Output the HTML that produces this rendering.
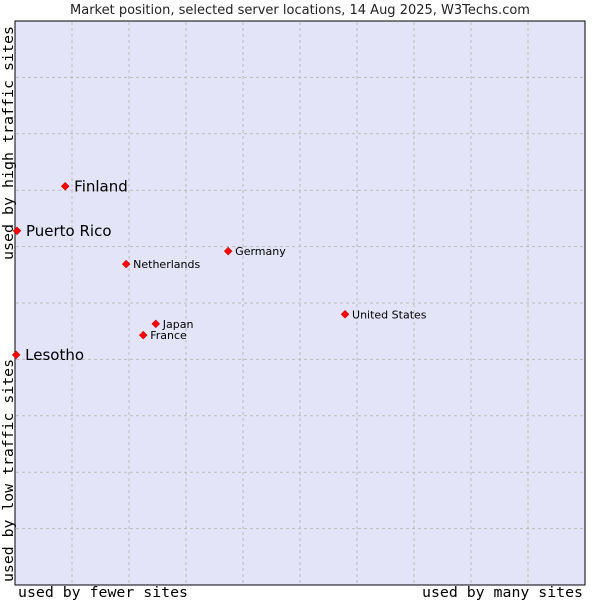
<!DOCTYPE html>
<html><head><meta charset="utf-8"><style>
body{margin:0;background:#fff;width:600px;height:600px;overflow:hidden}
svg{display:block}
</style></head><body>
<svg id="c" width="600" height="600" font-family="DejaVu Sans, Liberation Sans, sans-serif">
<text x="300" y="14" text-anchor="middle" font-size="13" fill="#222">Market position, selected server locations, 14 Aug 2025, W3Techs.com</text>
<rect x="15" y="21" width="570" height="564" fill="#e4e4f8" stroke="#000" stroke-width="1"/>
<g id="grid"></g>
<g id="pts"></g>
<text x="18" y="597" font-family="DejaVu Sans Mono, Liberation Mono, monospace" font-size="14" textLength="170" lengthAdjust="spacingAndGlyphs">used by fewer sites</text>
<text x="422" y="597" font-family="DejaVu Sans Mono, Liberation Mono, monospace" font-size="14" textLength="161" lengthAdjust="spacingAndGlyphs">used by many sites</text>
<text transform="translate(13,582) rotate(-90)" font-family="DejaVu Sans Mono, Liberation Mono, monospace" font-size="14" textLength="223" lengthAdjust="spacingAndGlyphs">used by low traffic sites</text>
<text transform="translate(13,260) rotate(-90)" font-family="DejaVu Sans Mono, Liberation Mono, monospace" font-size="14" textLength="234" lengthAdjust="spacingAndGlyphs">used by high traffic sites</text>
</svg>
<script>
const names=["Finland","Puerto Rico","Lesotho","Netherlands","Germany","United States","Japan","France"];
const xs=[8.8,0.35,0.2,19.5,37.4,57.9,24.7,22.5];
const ys=[70.7,62.8,40.8,56.9,59.2,48.0,46.3,44.3];
const big=[true,true,true,false,false,false,false,false];
const X=v=>15+v*5.7, Y=v=>585-v*5.64;
const NS="http://www.w3.org/2000/svg";
const g=document.getElementById('grid');
for(let i=1;i<10;i++){
 const l=document.createElementNS(NS,'line');
 
 
 l.setAttribute('x1',X(i*10));l.setAttribute('x2',X(i*10));l.setAttribute('y1',22);l.setAttribute('y2',584);
 l.setAttribute('stroke','#bbb');l.setAttribute('stroke-dasharray','3,3');g.appendChild(l);
 const h=document.createElementNS(NS,'line');
 
 
 h.setAttribute('y1',Y(i*10));h.setAttribute('y2',Y(i*10));h.setAttribute('x1',16);h.setAttribute('x2',584);
 h.setAttribute('stroke','#bbb');h.setAttribute('stroke-dasharray','3,3');g.appendChild(h);
}
const p=document.getElementById('pts');
names.forEach((n,i)=>{
 const x=X(xs[i]),y=Y(ys[i]);
 const d=document.createElementNS(NS,'path');
 
 
 d.setAttribute('d',`M${x} ${y-4}L${x+4} ${y}L${x} ${y+4}L${x-4} ${y}Z`);
 d.setAttribute('fill','#f00');d.setAttribute('stroke','#a00');d.setAttribute('stroke-width','0.5');p.appendChild(d);
 const t=document.createElementNS(NS,'text');
 
 
 t.setAttribute('x',x+(big[i]?9:7));t.setAttribute('y',y+(big[i]?5:4));
 t.setAttribute('font-size',big[i]?15:11);t.textContent=n;p.appendChild(t);
});
</script>
</body></html>
